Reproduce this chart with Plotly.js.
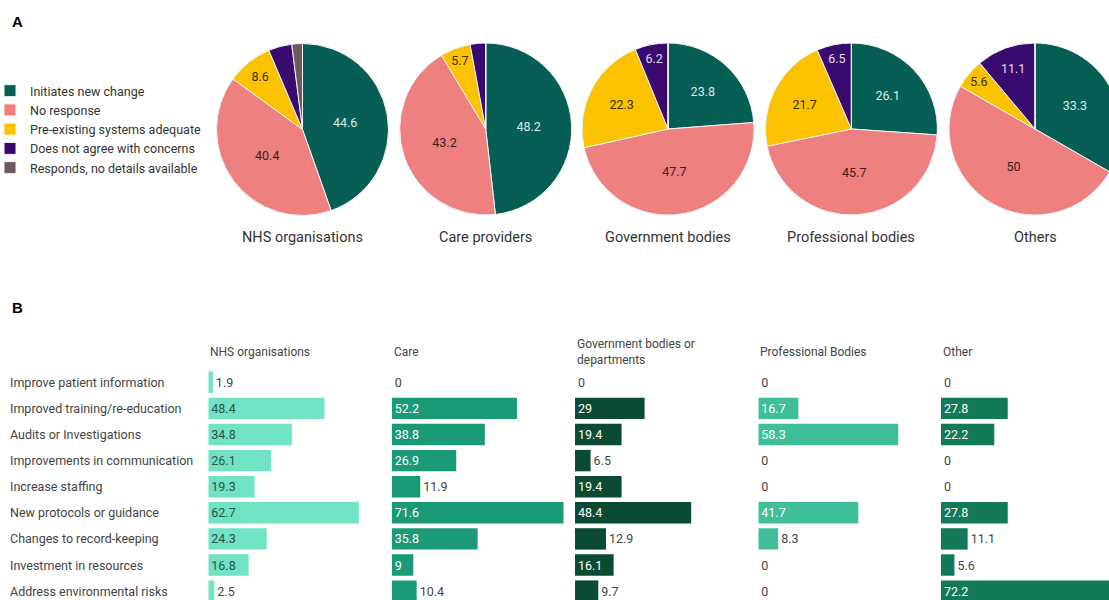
<!DOCTYPE html>
<html>
<head>
<meta charset="utf-8">
<script src="https://cdn.plot.ly/plotly-3.0.1.min.js"></script>
<style>
html,body{margin:0;padding:0;overflow:hidden;background:#fff;}
#chart{width:1130px;height:600px;}
</style>
</head>
<body>
<div id="chart"></div>
<script>
// ---------- DATA ----------
const responseLabels = ["Initiates new change","No response","Pre-existing systems adequate","Does not agree with concerns","Responds, no details available"];
const pieGroups = ["NHS organisations","Care providers","Government bodies","Professional bodies","Others"];
const pieNHS  = [44.6, 40.4, 8.6, 4.4, 2.0];
const pieCare = [48.2, 43.2, 5.7, 2.9, 0];
const pieGov  = [23.8, 47.7, 22.3, 6.2, 0];
const pieProf = [26.1, 45.7, 21.7, 6.5, 0];
const pieOther= [33.3, 50, 5.6, 11.1, 0];

const changeCategories = ["Improve patient information","Improved training/re-education","Audits or Investigations","Improvements in communication","Increase staffing","New protocols or guidance","Changes to record-keeping","Investment in resources","Address environmental risks"];
const barGroups = ["NHS organisations","Care","Government bodies or<br>departments","Professional Bodies","Other"];
const barNHS  = [1.9, 48.4, 34.8, 26.1, 19.3, 62.7, 24.3, 16.8, 2.5];
const barCare = [0, 52.2, 38.8, 26.9, 11.9, 71.6, 35.8, 9, 10.4];
const barGov  = [0, 29, 19.4, 6.5, 19.4, 48.4, 12.9, 16.1, 9.7];
const barProf = [0, 16.7, 58.3, 0, 0, 41.7, 8.3, 0, 0];
const barOther= [0, 27.8, 22.2, 0, 0, 27.8, 11.1, 5.6, 72.2];

// ---------- STYLE / LAYOUT ----------
const W = 1130, H = 600;
const FONT = "Roboto, 'Open Sans', sans-serif";
const px = x => x / W;
const py = y => 1 - y / H;

const pieColors = ["#075e55","#ef8080","#fbc200","#3a0b6e","#6b5b5f"];
const pieTextColors = ["#d9ece6","#3b1c1c","#3a2d00","#e4daf3","#ffffff"];
const pieCenters = [[302.5,129.5],[485.7,129],[668,129],[851.4,129],[1035,129]];
const pieR = 86;
const pieSeries = [pieNHS, pieCare, pieGov, pieProf, pieOther];
const pieShow = [
  [1,1,1,0,0],
  [1,1,1,0,0],
  [1,1,1,1,0],
  [1,1,1,1,0],
  [1,1,1,1,0]
];

const traces = [];
pieSeries.forEach((vals, k) => {
  const [cx, cy] = pieCenters[k];
  traces.push({
    type: 'pie',
    labels: responseLabels,
    values: vals,
    sort: false,
    direction: 'clockwise',
    rotation: 0,
    domain: {x: [px(cx - pieR), px(cx + pieR)], y: [py(cy + pieR), py(cy - pieR)]},
    marker: {colors: pieColors, line: {color: '#f4f4f4', width: 1}},
    texttemplate: pieShow[k].map(s => s ? '%{value}' : ''),
    textposition: 'inside',
    insidetextorientation: 'horizontal',
    textfont: {family: FONT, size: 12.5, color: pieTextColors},
    hoverinfo: 'label+value',
    showlegend: k === 0
  });
});

const barColors = ["#6fe3c3","#1b9a77","#0b4a33","#3fbf99","#127a58"];
const barInsideText = ["#2a5446","#ffffff","#ffffff","#ffffff","#ffffff"];
const barStarts = [208.3, 391.7, 575, 758.3, 941];
const pxPerUnit = 2.4;
const colWidth = 180;
const barSeries = [barNHS, barCare, barGov, barProf, barOther];
const barPos = [
  ['outside','inside','inside','inside','inside','inside','inside','inside','outside'],
  ['outside','inside','inside','inside','outside','inside','inside','inside','outside'],
  ['outside','inside','inside','outside','inside','inside','outside','inside','outside'],
  ['outside','inside','inside','outside','outside','inside','outside','outside','outside'],
  ['outside','inside','inside','outside','outside','inside','outside','outside','inside']
];
const idx = changeCategories.map((c, i) => i);

const layout = {
  width: W, height: H,
  margin: {l: 0, r: 0, t: 0, b: 0, pad: 0, autoexpand: false},
  paper_bgcolor: '#ffffff', plot_bgcolor: 'rgba(0,0,0,0)',
  font: {family: FONT, size: 12.5, color: '#444'},
  bargap: 0.18,
  showlegend: true,
  legend: {
    x: px(-10), y: py(76), xanchor: 'left', yanchor: 'top',
    bgcolor: 'rgba(0,0,0,0)',
    font: {family: FONT, size: 12.5, color: '#333'},
    itemclick: false, tracegroupgap: 0
  },
  yaxis: {domain: [0, (H - 368) / H], range: [8.34, -0.548], visible: false, fixedrange: true},
  annotations: [],
  hovermode: 'closest'
};

barSeries.forEach((vals, k) => {
  const axName = k === 0 ? 'x' : 'x' + (k + 1);
  const layName = k === 0 ? 'xaxis' : 'xaxis' + (k + 1);
  layout[layName] = {
    domain: [px(barStarts[k]), px(barStarts[k] + colWidth)],
    range: [0, colWidth / pxPerUnit],
    visible: false, anchor: 'y', fixedrange: true
  };
  traces.push({
    type: 'bar', orientation: 'h',
    x: vals, y: idx,
    xaxis: axName, yaxis: 'y',
    marker: {color: barColors[k]},
    texttemplate: '%{x}',
    textposition: barPos[k],
    insidetextanchor: 'start',
    constraintext: 'none',
    insidetextfont: {family: FONT, size: 12.5, color: barInsideText[k]},
    outsidetextfont: {family: FONT, size: 12.5, color: '#444'},
    showlegend: false,
    hoverinfo: 'x'
  });
  layout.annotations.push({
    xref: 'paper', yref: 'paper',
    x: px(barStarts[k]), y: py(351.5),
    xanchor: 'left', yanchor: 'middle', align: 'left',
    text: barGroups[k], showarrow: false,
    font: {family: FONT, size: 12, color: '#444'}
  });
});

changeCategories.forEach((c, i) => {
  layout.annotations.push({
    xref: 'paper', yref: 'y',
    x: px(8), y: i,
    xanchor: 'left', yanchor: 'middle',
    text: c, showarrow: false,
    font: {family: FONT, size: 12.5, color: '#444'}
  });
});

pieGroups.forEach((g, k) => {
  layout.annotations.push({
    xref: 'paper', yref: 'paper',
    x: px(pieCenters[k][0]), y: py(237),
    xanchor: 'center', yanchor: 'middle',
    text: g, showarrow: false,
    font: {family: FONT, size: 14.5, color: '#333'}
  });
});

[["A", 22], ["B", 307]].forEach(([t, y]) => {
  layout.annotations.push({
    xref: 'paper', yref: 'paper',
    x: px(10), y: py(y),
    xanchor: 'left', yanchor: 'middle',
    text: '<b>' + t + '</b>', showarrow: false,
    font: {family: "'Liberation Sans', Arial, sans-serif", size: 15, color: '#000'}
  });
});

Plotly.newPlot('chart', traces, layout, {displayModeBar: false, staticPlot: false});
</script>
</body>
</html>
